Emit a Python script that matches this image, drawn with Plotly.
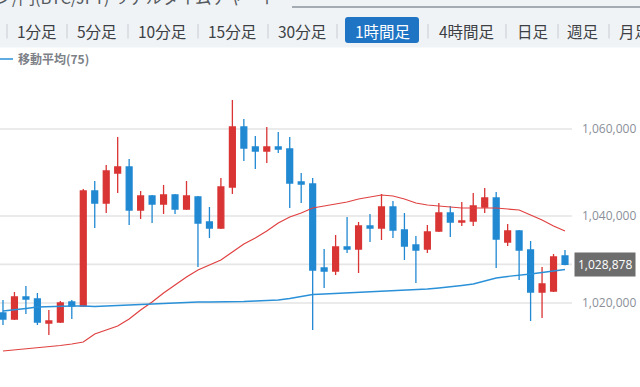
import pandas as pd
import plotly.graph_objects as go

# ---------------- data ----------------
times = pd.date_range("2019-11-20 00:00", periods=50, freq="h")

opens = [1017690, 1016310, 1021370, 1020910, 1015390, 1015620, 1020220, 1019300, 1045750, 1042990,
         1049890, 1051270, 1041380, 1044600, 1042760, 1044830, 1041610, 1044370, 1038620, 1037240,
         1046670, 1060470, 1055870, 1054950, 1055870, 1055410, 1047820, 1047360, 1028040, 1027350,
         1032870, 1032410, 1037700, 1037240, 1042070, 1036780, 1033330, 1032410, 1036550, 1040690,
         1038620, 1038850, 1042070, 1044140, 1034020, 1036550, 1032180, 1022520, 1022750, 1030800]
highs = [1020680, 1022520, 1023900, 1022290, 1018380, 1020450, 1020680, 1046210, 1048050, 1051730,
         1058170, 1053110, 1045750, 1044830, 1047130, 1045060, 1048050, 1044600, 1042070, 1048740,
         1066680, 1062310, 1058400, 1060470, 1059320, 1058170, 1049890, 1048740, 1032410, 1035630,
         1039770, 1038620, 1040460, 1045060, 1043450, 1040690, 1035400, 1037930, 1042990, 1042300,
         1043220, 1045290, 1046440, 1045520, 1038160, 1036780, 1034250, 1028270, 1031260, 1032180]
lows = [1014930, 1016080, 1017460, 1014930, 1012630, 1015390, 1016310, 1019070, 1037240, 1040690,
        1045290, 1037930, 1039310, 1038390, 1040460, 1040460, 1041380, 1028270, 1034940, 1037010,
        1045060, 1052650, 1050810, 1052190, 1054490, 1041840, 1042990, 1013780, 1023440, 1026430,
        1031490, 1026890, 1034020, 1034480, 1034940, 1029880, 1024590, 1031490, 1036320, 1035170,
        1037700, 1037700, 1040690, 1028040, 1033100, 1025300, 1015850, 1016540, 1022520, 1028650]
closes = [1016310, 1021370, 1020910, 1015620, 1015850, 1019990, 1019300, 1045750, 1042990, 1050350,
          1051270, 1041380, 1044600, 1042760, 1044830, 1041610, 1044600, 1038390, 1037240, 1046670,
          1060470, 1055640, 1054950, 1055870, 1055410, 1047590, 1047360, 1027580, 1027350, 1032870,
          1032410, 1037700, 1037240, 1042070, 1036780, 1033100, 1032180, 1036320, 1040690, 1038620,
          1038850, 1042300, 1044140, 1034710, 1036550, 1032180, 1022520, 1024360, 1030570, 1028878]

ma_short = [1008950, 1009180, 1009410, 1009640, 1009870, 1010215, 1010560, 1011020, 1012860, 1013780,
            1014700, 1016310, 1018380, 1020220, 1022290, 1024130, 1025970, 1027580, 1028730, 1029880,
            1031720, 1033560, 1034940, 1036550, 1038390, 1039770, 1040690, 1041840, 1042300, 1042760,
            1043220, 1043910, 1044370, 1044830, 1044600, 1043910, 1042990, 1042530, 1042300, 1042070,
            1041840, 1041840, 1041840, 1041840, 1041610, 1041380, 1040230, 1039080, 1037700, 1036550]
ma_75 = [1018150, 1018380, 1018725, 1019070, 1019185, 1019300, 1019300, 1019300, 1019185, 1019300,
         1019415, 1019530, 1019645, 1019875, 1019990, 1020105, 1020105, 1020220, 1020220, 1020220,
         1020220, 1020335, 1020450, 1020565, 1020680, 1021025, 1021485, 1021945, 1022060, 1022175,
         1022290, 1022405, 1022520, 1022635, 1022750, 1022865, 1022980, 1023210, 1023440, 1023670,
         1024015, 1024360, 1025050, 1025740, 1026085, 1026315, 1026660, 1027005, 1027350, 1027695]

last_price = 1028878
y_ticks = [1000000, 1020000, 1040000, 1060000]

title_text = "ビットコイン/円(BTC/JPY) リアルタイムチャート"
tab_labels = ["1分足", "5分足", "10分足", "15分足", "30分足", "1時間足", "4時間足", "日足", "週足", "月足"]
selected_tab = "1時間足"
legend_label = "移動平均(75)"

# ---------------- styling ----------------
W, H = 640, 387
RED = "#d93535"
BLUE = "#2189d2"
CJK = "Noto Sans CJK JP"
NUM = "Open Sans"


def px(x):
    return x / W


def py(y):
    return 1 - y / H


fig = go.Figure()

fig.add_trace(go.Candlestick(
    x=times, open=opens, high=highs, low=lows, close=closes,
    increasing=dict(line=dict(color=RED, width=1.3), fillcolor=RED),
    decreasing=dict(line=dict(color=BLUE, width=1.3), fillcolor=BLUE),
    showlegend=False, hoverinfo="skip",
))
fig.add_trace(go.Scatter(
    x=times, y=ma_short, mode="lines", line=dict(color="#e04040", width=1.2),
    showlegend=False, hoverinfo="skip",
))
fig.add_trace(go.Scatter(
    x=times, y=ma_75, mode="lines", line=dict(color="#2a90d8", width=1.3),
    name=legend_label, showlegend=True, hoverinfo="skip",
))

# axis ranges (pixel calibration)
x0 = times[0] - pd.Timedelta(hours=0.26)
x1 = times[0] + pd.Timedelta(hours=49.61)
y_top_px, y_bot_px = 48, 387
def pv(y):
    return 1040000 + (216 - y) * 230

shapes = []
annotations = []

# header background
shapes.append(dict(type="rect", xref="paper", yref="paper", x0=0, x1=1, y0=py(47.5), y1=1,
                   fillcolor="#f0f3f6", line=dict(width=0), layer="above"))
# title underline
shapes.append(dict(type="line", xref="paper", yref="paper", x0=px(292), x1=1, y0=py(7), y1=py(7),
                   line=dict(color="#8c939b", width=1.3), layer="above"))
# title (partly above the window)
annotations.append(dict(text=title_text, xref="paper", yref="paper", x=px(279), y=py(11),
                        xanchor="right", yanchor="bottom", showarrow=False,
                        font=dict(family=CJK, size=16.5, color="#555a60")))

# tabs
tab_centers = [37, 96.5, 162, 232, 302, 382.5, 466.5, 532, 582.5, 634]
separators = [7, 67, 128, 198, 268, 337, 428, 506, 558, 609]
for sx in separators:
    shapes.append(dict(type="line", xref="paper", yref="paper", x0=px(sx), x1=px(sx),
                       y0=py(24), y1=py(38.5), line=dict(color="#c8cdd2", width=1), layer="above"))
# selected tab box with rounded corners
bx0, bx1, by0, by1, r = 345, 419, 17, 43, 3
path = (f"M {px(bx0 + r)},{py(by0)} L {px(bx1 - r)},{py(by0)} Q {px(bx1)},{py(by0)} {px(bx1)},{py(by0 + r)} "
        f"L {px(bx1)},{py(by1 - r)} Q {px(bx1)},{py(by1)} {px(bx1 - r)},{py(by1)} "
        f"L {px(bx0 + r)},{py(by1)} Q {px(bx0)},{py(by1)} {px(bx0)},{py(by1 - r)} "
        f"L {px(bx0)},{py(by0 + r)} Q {px(bx0)},{py(by0)} {px(bx0 + r)},{py(by0)} Z")
shapes.append(dict(type="path", xref="paper", yref="paper", path=path,
                   fillcolor="#1f74c4", line=dict(width=0), layer="above"))
for lab, cx in zip(tab_labels, tab_centers):
    sel = lab == selected_tab
    annotations.append(dict(text=lab, xref="paper", yref="paper", x=px(cx), y=py(31),
                            xanchor="center", yanchor="middle", showarrow=False,
                            font=dict(family=CJK, size=15.5, color="#ffffff" if sel else "#3c3f44")))

# current price line and label
shapes.append(dict(type="line", xref="x domain", yref="y", x0=0, x1=1, y0=last_price, y1=last_price,
                   line=dict(color="#e6e6e6", width=1.6), layer="below"))
annotations.append(dict(text=f"{last_price:,}", xref="paper", yref="y", x=px(574), y=last_price,
                        xanchor="left", yanchor="middle", showarrow=False,
                        bgcolor="#6d6d6d", borderpad=3,
                        font=dict(family=NUM, size=12, color="#ffffff")))
# bottom tick label, cut by the window edge
annotations.append(dict(text=f"{y_ticks[0]:,}", xref="paper", yref="paper", x=px(583), y=py(391),
                        xanchor="left", yanchor="middle", showarrow=False,
                        font=dict(family=NUM, size=12, color="#8a8f99")))

fig.update_layout(
    width=W, height=H,
    margin=dict(l=0, r=0, t=0, b=0, pad=0, autoexpand=False),
    paper_bgcolor="#ffffff", plot_bgcolor="#ffffff",
    boxgap=0.27,
    xaxis=dict(domain=[0, 572 / W], range=[x0, x1], visible=False,
               rangeslider=dict(visible=False), fixedrange=True),
    yaxis=dict(domain=[0, py(y_top_px)], range=[pv(y_bot_px), pv(y_top_px)], side="right",
               tickvals=y_ticks[1:], tickformat=",d", showgrid=True, gridcolor="#ebebeb", gridwidth=1.6,
               zeroline=False, showline=False, ticks="", ticklabelstandoff=9, automargin=False,
               tickfont=dict(family=NUM, size=12, color="#8a8f99"), fixedrange=True),
    showlegend=True,
    legend=dict(x=-22 / W, y=py(59), xanchor="left", yanchor="middle", bgcolor="rgba(0,0,0,0)",
                itemwidth=30, font=dict(family=CJK, size=12, color="#7c8087", weight="bold")),
    shapes=shapes,
    annotations=annotations,
)

fig.write_html(
    "out.html",
    config={"displayModeBar": False},
    post_script="document.body.style.margin='0';document.body.style.overflow='hidden';",
)
